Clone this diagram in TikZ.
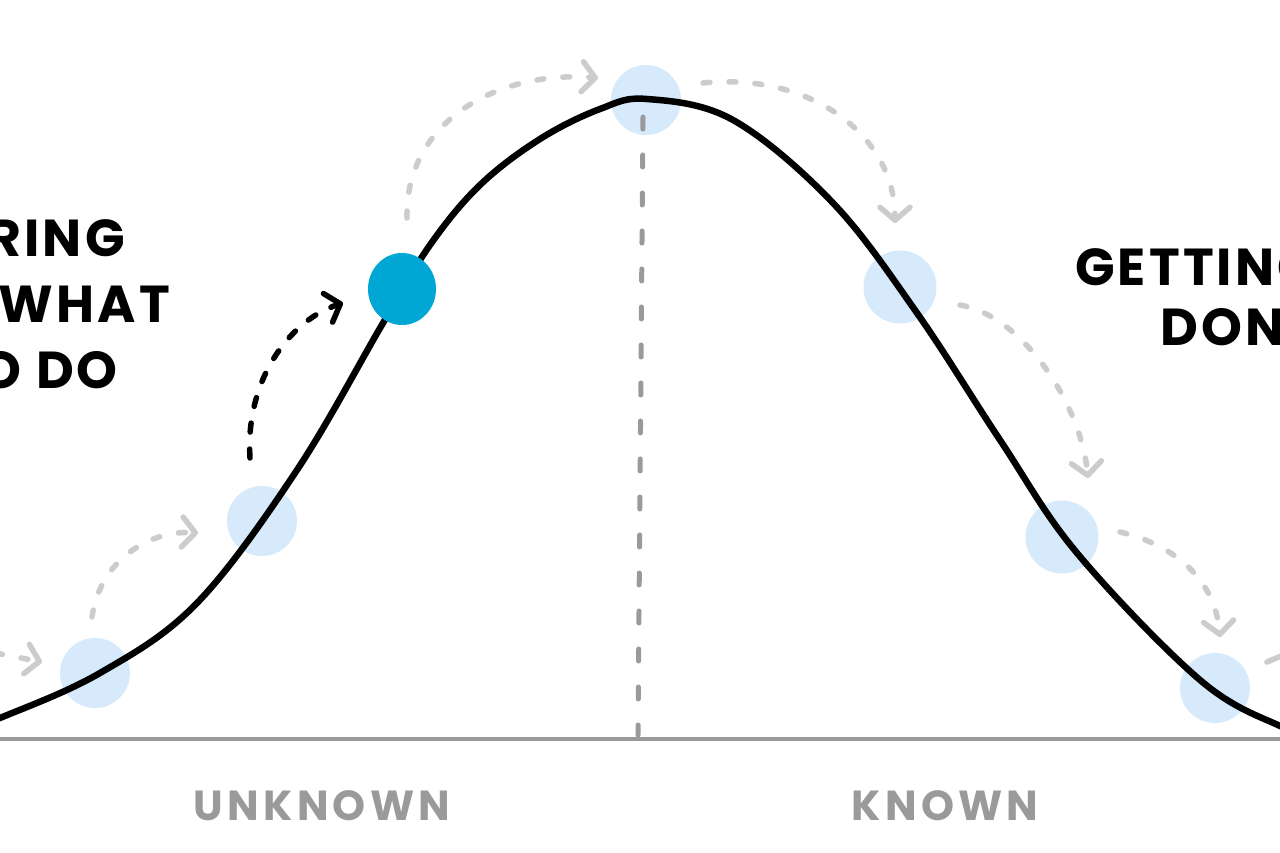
\documentclass[tikz,border=0pt]{standalone}
\usepackage{fontspec}
\setmainfont{Poppins}
\usetikzlibrary{arrows.meta,shapes.geometric}
\definecolor{blobblue}{HTML}{D6EAFB}
\definecolor{dotblue}{HTML}{00A6D4}
\definecolor{arrowgray}{HTML}{CCCCCC}
\definecolor{axisgray}{HTML}{9A9A9A}
\tikzset{
  blob/.style={circle, fill=blobblue, minimum size=70pt, inner sep=0pt},
  nowdot/.style={ellipse, fill=dotblue, minimum width=68pt, minimum height=72pt, inner sep=0pt},
  hop/.style={draw=arrowgray, line width=5.5pt, line cap=round, dash pattern=on 7pt off 19pt,
    -{Straight Barb[round,length=13pt,width=30pt]}},
  nowhop/.style={draw=black, line width=5.5pt, line cap=round, dash pattern=on 9pt off 17pt,
    -{Straight Barb[round,length=13pt,width=30pt]}},
  hill/.style={draw=black, line width=6.5pt, line cap=round, line join=round},
  axis/.style={draw=axisgray, line width=4pt, line cap=round},
  midline/.style={draw=axisgray, line width=5pt, line cap=round, dash pattern=on 12pt off 26pt},
  phase/.style={inner sep=0pt, text=black, font=\fontsize{52}{60}\selectfont\bfseries\addfontfeatures{LetterSpace=6}},
  side/.style={inner sep=0pt, text=axisgray, font=\fontsize{42}{48}\selectfont\bfseries\addfontfeatures{LetterSpace=10}}
}
\begin{document}
\begin{tikzpicture}[x=1pt,y=-1pt]
\useasboundingbox (0,0) rectangle (1280,853);
\clip (0,0) rectangle (1280,853);
\fill[white] (0,0) rectangle (1280,853);

% blobs (positions on the hill)
\node[blob] (b1) at (95,673) {};
\node[blob] (b2) at (262,521) {};
\node[blob] (b3) at (646,100) {};
\node[blob, minimum size=73pt] (b4) at (900,287) {};
\node[blob, minimum size=73pt] (b5) at (1062,537) {};
\node[blob] (b6) at (1215,688) {};

% axis and mid line
\coordinate (axl) at (0,739);
\coordinate (axr) at (1280,739);
\draw[axis] (axl) -- (axr);
\coordinate (mtop) at (643,117);
\coordinate (mbot) at (638,735);
\draw[midline] (mtop) -- (mbot);

% gray hop arrows
\coordinate (h0s) at (-30,648);
\coordinate (h0e) at (42,662);
\draw[hop] (h0s) -- (h0e);
\coordinate (h1s) at (92,617);
\coordinate (h1e) at (198,533);
\draw[hop] (h1s) .. controls (100,560) and (150,530) .. (h1e);
\coordinate (h3s) at (407,218);
\coordinate (h3e) at (598,78);
\draw[hop] (h3s) .. controls (405,120) and (500,70) .. (h3e);
\coordinate (h4s) at (703,83);
\coordinate (h4e) at (895,223);
\draw[hop] (h4s) .. controls (810,72) and (895,135) .. (h4e);
\coordinate (h5s) at (960,305);
\coordinate (h5e) at (1088,478);
\draw[hop] (h5s) .. controls (1020,315) and (1080,400) .. (h5e);
\coordinate (h6s) at (1120,532);
\coordinate (h6e) at (1220,637);
\draw[hop] (h6s) .. controls (1175,545) and (1215,580) .. (h6e);
\coordinate (h7s) at (1267,662);
\coordinate (h7e) at (1300,648);
\draw[draw=arrowgray, line width=5.5pt, line cap=round] (h7s) -- (h7e);

% the hill
\draw[hill] plot[smooth, tension=0.6] coordinates {
 (-40,732) (0,718) (100,673) (197,603) (297,470) (383,323) (430,245) (480,185) (540,139) (600,109) (647,99)
 (733,120) (833,203) (917,313) (1000,440) (1077,553) (1200,680) (1280,726) (1320,738)};

% current position
\node[nowdot] (now) at (402,289) {};
\coordinate (nhs) at (250,458);
\coordinate (nhe) at (343,303);
\draw[nowhop] (nhs) .. controls (245,380) and (290,320) .. (nhe);

% texts
\node[phase, anchor=base east] (t1) at (125,256) {FIGURING};
\node[phase, anchor=base east] (t2) at (170,322) {OUT WHAT};
\node[phase, anchor=base east] (t3) at (118,388) {TO DO};
\node[phase, anchor=base west] (r1) at (1075,285) {GETTING IT};
\node[phase, anchor=base west] (r2) at (1160,345) {DONE};
\node[side] (unk) at (322,806) {UNKNOWN};
\node[side] (kn) at (945,806) {KNOWN};
\end{tikzpicture}
\end{document}
